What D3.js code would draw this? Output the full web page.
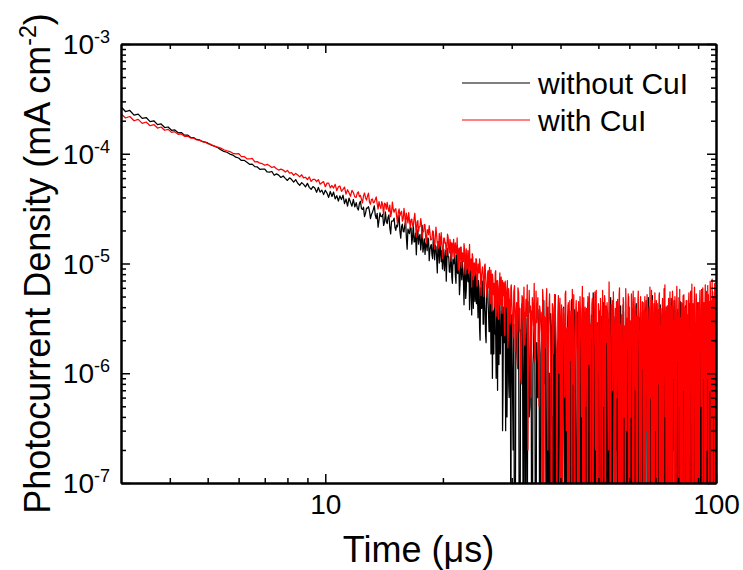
<!DOCTYPE html>
<html>
<head>
<meta charset="utf-8">
<title>Photocurrent decay</title>
<style>
  body { margin: 0; background: #fff; }
  svg { font-family: "Liberation Sans", Arial, sans-serif; }
  .axis .domain { stroke: #000; stroke-width: 2; }
  .axis .tick line { stroke: #000; stroke-width: 1.5; }
  .axis text { font-size: 28px; fill: #000; }
</style>
</head>
<body>
<div id="chart"></div>
<script src="https://d3js.org/d3.v7.min.js"></script>
<script>
// time grid of each recorded block (µs): start and step; blocks 3/4 and 5/6 interleave
const segStart = [3, 5, 12, 12.075, 30, 30.125];
const segStep = [0.08, 0.1, 0.15, 0.15, 0.25, 0.25];
const unit = 1e-6; // values below are in 1e-6 mA cm^-2

const withoutCuI = [
  [268, 242.5, 248, 224.8, 229.8, 209.8, 213.8, 196.3, 199.6, 184.2, 186.8, 173.3, 175.3,
   163.5, 165, 155.1, 156.1, 147.8, 148, 141.3, 140.4, 135.1, 133.8, 129.4, 127.6],
  [125.5, 120.2, 117.2, 114.0, 109.0, 105.0, 103.2, 99.3, 97.2, 93.1,
   91.5, 86.9, 87.1, 83.8, 80.1, 80.5, 76.3, 75.8, 72.2, 72.4,
   72.5, 68.2, 67.9, 68.9, 63.7, 65.6, 63.9, 60.8, 62.7, 59.7,
   57.1, 60.3, 58.2, 55.2, 58.1, 53.8, 51.6, 54.6, 52.6, 49.9,
   53.7, 49.4, 47.3, 50.2, 48.7, 44.6, 49.3, 44.7, 46.6, 42.4,
   46.5, 43.8, 40.0, 45.3, 40.8, 44.8, 38.8, 41.5, 37.1, 41.3,
   38.2, 41.9, 35.1, 38.7, 33.3, 39.5, 36.1, 33.3, 38.4, 32.8],
  [35.8, 30.7, 36.9, 31.1, 26.7, 31.9, 32.9, 25.6, 29.2, 33.5,
   25.6, 21.4, 28.9, 26.7, 22.2, 29.5, 23.1, 27.7, 18.6, 24.3,
   25.9, 20.0, 21.6, 27.5, 17.0, 22.8, 19.4, 24.1, 13.5, 19.5,
   21.5, 15.0, 22.9, 15.9, 12.0, 20.2, 17.5, 13.3, 22.2, 14.1,
   12.1, 15.8, 17.1, 10.6, 14.4, 12.0, 17.3, 10.8, 14.2, 8.2,
   13.9, 15.5, 10.4, 8.9, 13.5, 10.6, 6.9, 13.7, 11.5, 8.3,
   13.7, 6.6, 9.9, 12.0, 6.6, 8.4, 13.3, 5.2, 10.2, 7.1,
   8.9, 4.2, 10.6, 5.7, 11.5, 6.8, 3.8, 8.8, 3.4, 7.5,
   7.9, 4.5, 5.2, 7.9, 3.2, 5.9, 2.0, 6.1, 4.8, 2.8,
   6.7, 3.6, 1.9, 5.7, 4.4, 2.4, 6.5, 1.5, 4.5, 3.2,
   1.5, 5.3, 2.2, 4.5, 0.7, 3.6, 4.7, 1.5, 2.2, 5.3,
   0.7, 3.4, 4.1, 0.3, 2.7, 1.2, 4.4, 0.6, 3.2, -0.2],
  [32.1, 35.2, 31.7, 32.6, 28.6, 32.0, 30.0, 27.9, 31.1, 27.6,
   28.6, 24.8, 26.9, 28.0, 23.7, 24.3, 26.3, 21.2, 24.3, 24.5,
   21.4, 22.4, 24.6, 19.6, 21.6, 19.7, 22.4, 17.4, 20.6, 18.7,
   21.1, 17.3, 15.7, 18.9, 17.9, 15.0, 18.4, 15.8, 12.7, 16.8,
   15.1, 13.1, 16.7, 13.3, 14.9, 11.1, 13.6, 14.7, 11.3, 15.1,
   10.1, 12.8, 13.2, 10.9, 8.6, 13.2, 10.7, 11.6, 8.4, 10.5,
   7.5, 11.0, 10.2, 7.8, 12.0, 8.1, 8.9, 6.5, 10.0, 10.5,
   6.9, 8.4, 4.8, 8.6, 6.9, 8.9, 5.1, 7.4, 7.7, 3.9,
   6.4, 8.3, 4.3, 5.0, 7.0, 2.6, 5.9, 3.9, 6.9, 2.8,
   4.5, 2.2, 5.7, 6.8, 3.4, 2.4, 4.5, 5.7, 0.9, 3.7,
   5.2, 2.3, 0.9, 5.5, 3.6, 1.2, 4.1, 2.6, 5.5, 0.3,
   4.0, 1.9, 2.8, 4.5, 0.4, 3.4, 0.8, 4.7, 1.5, 3.0],
  [3.4, 0.2, -1.3, 2.9, 1.5, 4.1, -0.6, 2.2, 0.8, 3.6, -1.9, 1.7, 4.5, 0.4, 2.6, -0.9, 1.2, 3.3, -2.1, 1.9,
   0.6, 3.8, -1.4, 2.0, 0.1, 4.6, 1.3, -0.8, 2.7, -2.3, 1.0, 3.5, 0.3, -1.1, 2.4, 5.2, -0.5, 1.6, 0.0, 3.1,
   -1.7, 2.3, 0.9, 4.0, -0.3, 1.4, -2.6, 3.2, 0.5, 2.1, -1.0, 4.7, 1.1, -0.4, 2.8, 0.2, -1.9, 3.6, 1.5, -0.7,
   2.5, 0.0, 3.9, -1.5, 1.8, 0.6, -2.2, 2.9, 4.3, -0.2, 1.3, -1.2, 3.4, 0.7, 5.4, -0.9, 1.9, 0.3, -2.8, 2.6,
   1.0, 3.7, -0.6, 2.2, -1.8, 0.4, 4.4, 1.6, -1.0, 2.8, 0.1, -2.4, 3.1, 1.2, -0.3, 4.9, 0.8, -1.5, 2.0, 3.3,
   -0.7, 1.5, 3.8, 0.2, -2.0, 2.4, 1.1, -0.4, 4.1, 0.6, -1.6, 2.7, 3.5, -0.9, 1.3, 0.0, -2.5, 3.0, 1.7, 5.0,
   -1.2, 0.9, 2.6, -0.2, 3.9, 1.4, -2.1, 0.5, 2.2, -0.8, 4.3, 1.8, -1.4, 0.3, 3.2, -0.5, 2.0, -2.7, 1.1, 3.6,
   0.4, -1.3, 2.9, 1.0, -0.6, 4.6, 0.7, -2.3, 1.9, 3.3, -0.1, 1.5, -1.8, 2.5, 0.2, 5.1, -0.9, 1.2, 3.0, -1.5,
   2.1, 0.6, -2.0, 3.7, 1.3, -0.4, 2.8, 0.0, 4.2, -1.1, 1.6, -2.6, 2.4, 0.9, 3.5, -0.7, 1.0, -1.6, 4.0, 0.3,
   -0.8, 2.7, 1.4, -1.9, 3.1, 0.5, -0.3, 4.8, 1.1, -2.2, 2.0, 0.2, 3.6, -1.2, 1.7, -0.5, 2.9, 0.8, -2.4, 3.8,
   1.2, -0.9, 2.3, 0.4, 4.5, -1.7, 1.8, 0.0, -2.1, 3.3, 1.0, 2.6, -0.6, 0.7, 4.1, -1.3, 1.5, 3.0, -0.2, -2.8,
   2.2, 0.8, 3.9, -1.0, 1.4, -0.3, 5.3, 0.6, -1.8, 2.5, 1.1, -0.7, 3.4, 0.1, -2.3, 2.8, 1.6, -0.5, 4.4, 0.9,
   -1.4, 2.0, 0.3, 3.6, -0.8, 1.7, -2.5, 2.9, 0.5, 4.7, -0.2, 1.2, -1.6, 3.2, 0.7, -0.9, 2.4, 5.6, -1.1, 1.5,
   0.2, 3.5, -1.9, 1.8, 0.6, 4.3, -0.4, 2.1, -2.2, 1.0, 3.8, 0.4, -1.3, 2.6, 5.0, -0.6, 1.4, 0.1, 3.3, -1.8,
   2.2],
  [0.9, 2.8, -0.7, 3.9, 1.1, -1.6, 2.5, 4.3, 0.0, 1.8, 3.2, -1.2, 2.1, 0.5, 3.7, -0.4, 1.6, 2.9, -1.5, 0.7,
   2.4, -0.8, 1.5, 3.6, -1.9, 0.8, 2.2, -0.1, 4.0, 1.0, -2.1, 2.6, 0.4, 3.3, -0.9, 1.7, -2.4, 2.0, 4.4, 0.2,
   1.3, -1.1, 3.0, 0.1, 2.4, -2.0, 1.6, 4.2, -0.6, 0.9, 2.7, -1.4, 0.3, 3.8, 1.0, -2.7, 2.2, 0.6, -0.8, 3.4,
   -0.2, 1.9, -1.8, 3.1, 0.7, 2.3, -2.4, 1.2, 4.5, -0.5, 0.4, 2.6, -1.3, 1.8, 0.0, 3.7, -2.0, 1.4, 2.9, -0.9,
   1.7, 0.2, -1.6, 3.3, 0.8, 2.0, -0.7, 4.8, -2.3, 1.1, 2.5, 0.3, -1.1, 3.6, 1.4, -0.4, 2.2, -2.6, 1.0, 3.0,
   0.5, -1.4, 2.7, 1.2, -0.3, 3.9, 0.9, -2.2, 1.6, 2.4, -0.8, 4.2, 0.1, 1.8, -1.7, 2.9, 0.6, -0.5, 3.5, 1.3,
   2.0, -1.9, 0.7, 3.4, -0.6, 1.5, 2.8, -2.4, 0.3, 4.0, 1.1, -0.9, 2.4, 0.0, -1.5, 3.2, 1.7, 0.4, -2.8, 2.6,
   -0.4, 2.1, 1.0, -1.7, 3.8, 0.5, 1.9, -0.8, 4.9, 0.8, -2.0, 2.3, 1.4, -1.0, 3.1, 0.2, -0.6, 2.7, 1.2, -2.2,
   3.5, 0.7, -1.2, 2.0, 1.3, -0.2, 4.4, -1.8, 0.9, 2.6, -0.7, 1.6, 3.9, -2.5, 0.4, 1.8, -0.3, 3.0, 0.6, -1.4,
   1.5, 4.1, -0.9, 0.8, 2.3, -2.1, 1.1, 3.4, 0.0, -1.5, 2.7, 0.5, 4.6, -0.6, 1.3, -2.6, 2.1, 0.9, 3.2, -0.2,
   0.6, 2.9, -1.8, 1.4, 3.6, -0.5, 0.2, 2.2, -2.3, 1.7, 4.0, 0.3, -1.0, 2.5, 0.8, -0.4, 3.3, 1.0, -1.9, 2.0,
   -0.6, 1.9, 4.3, 0.4, -1.4, 2.6, 1.2, -2.2, 3.1, 0.0, 1.6, -0.8, 4.7, 0.9, -1.7, 2.3, 0.5, 3.5, -0.3, 1.1,
   2.8, -1.0, 0.7, 3.9, -2.4, 1.5, 0.2, 2.4, -0.7, 4.2, 1.0, -1.5, 2.0, 0.6, -0.2, 3.7, 1.3, -2.0, 2.6, 0.4,
   -1.2, 3.0, 0.9, -0.4, 2.2, 4.5, -1.6, 1.4, 0.3, 2.8, -0.9, 1.7, 3.6, -2.2, 0.6, 2.0, -0.5, 4.1, 1.1, -1.3]
];

const withCuI = [
  [231.8, 211.8, 218.4, 199.7, 205.9, 189.3, 194.6, 180, 184.5, 171.5, 175.2, 163.7, 166.8,
   156.5, 159, 150.2, 151.7, 144.3, 145.1, 139, 138.7, 134, 133.1, 129.2, 127.9],
  [123.7, 121.5, 117.3, 115.1, 112.7, 108.7, 106.5, 104.7, 100.9, 99.7,
   100.5, 94.2, 94.2, 89.9, 89.6, 90.9, 84.4, 84.8, 82.0, 81.1,
   78.5, 80.1, 77.6, 74.9, 76.2, 73.1, 71.0, 72.5, 71.0, 68.1,
   70.5, 66.6, 67.4, 63.7, 66.2, 64.1, 61.5, 64.3, 60.3, 61.1,
   58.2, 61.5, 56.0, 58.5, 58.5, 55.6, 58.2, 52.8, 54.4, 55.7,
   50.1, 54.0, 54.0, 48.9, 51.4, 48.7, 52.7, 46.2, 49.9, 50.8,
   45.5, 47.3, 49.7, 42.9, 47.0, 44.1, 41.0, 46.4, 44.3, 40.5],
  [40.1, 45.0, 41.8, 35.6, 43.9, 37.8, 43.7, 34.7, 38.7, 36.1,
   40.5, 31.3, 33.5, 36.6, 27.9, 34.9, 36.0, 29.7, 26.7, 36.3,
   29.3, 31.6, 23.0, 31.4, 28.9, 24.3, 31.8, 21.5, 26.0, 29.1,
   21.3, 25.4, 21.9, 28.7, 17.4, 24.6, 21.5, 25.6, 17.1, 19.4,
   22.4, 15.2, 20.3, 22.1, 16.4, 16.8, 19.6, 13.5, 21.4, 15.3,
   13.8, 16.7, 19.1, 11.1, 17.0, 15.3, 11.9, 18.5, 13.5, 16.6,
   10.5, 14.9, 16.6, 11.5, 12.6, 17.1, 8.7, 13.8, 14.1, 9.1,
   12.2, 15.2, 8.0, 13.6, 9.5, 8.1, 14.9, 9.5, 6.1, 11.4,
   10.0, 7.8, 11.1, 6.2, 9.9, 8.2, 10.0, 5.1, 8.7, 7.9,
   5.8, 9.9, 6.3, 4.9, 8.6, 7.2, 5.3, 8.7, 3.7, 7.2,
   6.6, 4.0, 8.6, 5.0, 7.0, 3.1, 6.3, 4.2, 7.5, 3.5,
   5.1, 6.7, 2.2, 5.8, 4.0, 7.0, 2.2, 4.8, 2.8, 6.0],
  [43.8, 40.7, 38.5, 41.3, 39.8, 41.3, 36.2, 38.3, 35.7, 38.2,
   35.2, 36.6, 31.7, 34.0, 35.4, 31.2, 31.8, 34.1, 29.2, 31.2,
   31.1, 27.0, 29.2, 27.2, 29.9, 25.5, 27.4, 28.8, 23.4, 24.6,
   25.1, 22.1, 25.8, 22.4, 24.0, 19.6, 21.7, 22.9, 19.5, 22.7,
   16.9, 20.3, 18.3, 19.3, 16.5, 19.8, 15.3, 17.5, 18.1, 15.8,
   18.8, 14.7, 15.8, 13.0, 17.0, 15.5, 13.8, 17.4, 12.5, 15.0,
   15.5, 11.4, 13.8, 15.4, 12.3, 11.2, 13.8, 9.5, 14.1, 12.5,
   10.4, 13.2, 10.7, 8.9, 13.1, 10.5, 8.7, 11.0, 12.3, 7.1,
   10.1, 8.5, 10.8, 6.5, 8.9, 11.0, 6.8, 7.9, 9.3, 5.0,
   9.6, 7.5, 5.4, 8.1, 6.0, 9.2, 4.3, 7.1, 8.0, 5.2,
   5.8, 8.3, 3.3, 7.0, 6.1, 3.8, 8.2, 4.5, 3.8, 7.0,
   5.6, 2.7, 6.9, 4.1, 5.5, 1.7, 5.9, 4.5, 2.9, 6.4],
  [4.6, 2.1, 6.3, 3.5, 1.2, 5.4, 3.9, 0.8, 4.8, 6.1, 2.6, 3.3, 0.2, 5.7, 4.1, 1.9, 3.8, 6.6, 1.4, 2.9,
   4.9, 0.5, 3.6, 2.2, 5.8, -0.7, 3.1, 4.4, 1.1, 2.7, 5.3, 0.9, -1.2, 3.9, 2.4, 4.7, 1.6, 0.3, 5.1, 2.8,
   -0.4, 4.2, 1.7, 3.4, 0.6, 5.6, 2.3, -1.5, 3.0, 4.6, 1.3, -0.2, 2.9, 5.2, 0.7, 3.7, 1.8, -0.9, 4.5, 2.0,
   3.3, 0.4, 6.2, 1.5, -1.1, 4.0, 2.6, 0.9, 5.0, 1.2, 3.6, -0.6, 2.1, 4.8, 0.1, 3.2, 5.5, 1.0, -1.8, 2.7,
   4.3, 1.6, -0.3, 3.8, 2.2, 5.7, 0.5, 2.9, -1.0, 4.1, 1.9, 3.5, 0.2, 6.8, 1.4, -0.8, 3.0, 4.6, 1.1, 2.5,
   -1.4, 3.9, 2.0, 0.6, 4.7, 1.3, 5.2, -0.5, 2.8, 3.4, 0.8, -1.7, 4.4, 2.3, 1.0, 5.9, 0.3, 3.1, 1.7, -0.2,
   4.0, 2.6, 0.4, 5.3, 1.8, -1.2, 3.6, 2.1, 4.9, 0.7, -0.6, 3.3, 1.5, 5.6, 2.4, -1.9, 3.8, 1.2, 0.1, 4.5,
   2.2, -0.9, 3.7, 5.0, 1.4, 0.3, 4.2, 2.8, -1.3, 3.1, 1.9, 6.1, 0.6, 2.5, -0.4, 4.6, 1.1, 3.4, 0.0, 5.4,
   1.6, 3.0, -1.6, 4.3, 2.0, 0.8, 5.1, -0.3, 2.7, 3.9, 1.3, -1.1, 4.8, 2.2, 0.5, 3.5, 6.4, 1.0, -0.7, 2.9,
   4.1, 0.2, 3.2, 1.7, -1.4, 5.5, 2.4, 0.9, 3.8, -0.5, 4.7, 1.4, 2.6, 0.0, 5.0, 3.3, -1.0, 1.8, 4.4, 2.1,
   -0.8, 3.6, 1.2, 5.8, 2.9, 0.4, -1.9, 4.2, 2.0, 3.4, 0.7, 5.2, 1.5, -0.2, 3.9, 2.5, 0.1, 4.6, 1.9, -1.3,
   3.1, 5.4, 0.6, 2.3, 4.0, -0.6, 1.8, 6.5, 2.7, 0.3, 3.5, -1.5, 4.9, 1.6, 2.9, 0.8, 5.3, -0.1, 3.7, 2.0,
   1.1, 4.4, -1.0, 3.0, 5.7, 2.2, 0.5, 4.1, 1.3, -0.7, 6.0, 2.8, 0.9, 3.6, -1.8, 4.7, 2.4, 1.0, 5.5, 0.2,
   3.3, 6.3, 1.7, -0.4, 4.5, 2.6, 0.7, 5.9, 1.9, -1.2, 3.8, 7.2, 2.1, 0.4, 4.8, 1.5, -0.9, 6.6, 2.9, 0.6,
   3.4],
  [3.1, 5.5, 1.6, 4.4, 6.0, 2.4, 0.9, 5.1, 3.0, 1.8, 4.7, 6.4, 2.0, 3.6, 0.6, 4.9, 2.7, 1.3, 5.6, 3.9,
   1.2, 4.1, 2.9, -0.5, 4.6, 3.3, 1.7, 5.9, 0.2, 3.8, 2.2, -0.9, 4.3, 1.5, 5.2, 2.6, -0.3, 3.5, 1.0, 4.8,
   2.7, -1.2, 3.9, 1.4, 5.3, 0.3, 2.6, 4.4, -0.6, 1.9, 3.7, 5.8, 0.8, -1.4, 2.4, 4.6, 1.2, 3.1, -0.1, 5.0,
   1.8, 3.5, -0.8, 4.9, 2.3, 0.5, 3.9, -1.6, 2.0, 5.4, 1.1, 2.8, 4.2, -0.4, 1.6, 3.3, 0.2, 5.7, 2.5, -1.0,
   3.7, 0.9, 4.8, 2.1, -1.3, 3.2, 1.4, 5.1, -0.2, 2.6, 4.4, 0.6, 1.9, 3.0, -1.7, 4.2, 2.3, 0.7, 5.5, 1.6,
   2.4, -0.6, 4.5, 1.2, 3.6, 0.0, 6.0, 2.2, -1.1, 3.4, 1.7, 4.9, 0.4, 2.7, -0.9, 4.1, 1.5, 3.2, 5.3, 0.8,
   -0.8, 3.0, 1.3, 4.3, 2.0, 5.6, -1.5, 2.6, 0.9, 3.9, 1.4, -0.3, 4.6, 2.2, 0.5, 3.4, 5.0, -1.0, 2.8, 1.1,
   4.4, 0.6, 2.9, -1.2, 3.6, 1.8, 5.2, 0.1, 2.4, 4.0, -0.7, 1.5, 3.3, 5.7, 0.9, -1.6, 2.7, 4.3, 1.2, 3.0,
   0.3, 4.6, 2.1, -0.5, 3.8, 1.6, 5.4, 2.5, -1.3, 3.1, 0.8, 4.2, 1.9, -0.1, 5.9, 2.3, 0.4, 3.6, -1.9, 4.0,
   2.6, -0.4, 4.8, 1.1, 3.3, 0.6, -1.5, 4.1, 2.2, 5.6, 0.9, 3.0, -0.8, 1.7, 4.5, 2.0, 0.2, 6.2, 1.3, 3.5,
   2.1, 4.9, 0.5, -1.1, 3.2, 1.6, 4.4, 2.7, -0.6, 5.1, 1.0, 3.6, -1.7, 2.3, 0.8, 4.6, 2.9, -0.2, 3.4, 1.4,
   4.7, -0.9, 2.5, 1.2, 5.6, 0.3, 3.4, 1.9, -1.2, 4.3, 2.1, 0.7, 6.1, 1.5, -0.4, 3.1, 4.4, 0.9, 2.6, -1.6,
   3.8, 2.0, -0.3, 4.9, 1.6, 3.3, 0.6, 5.8, 2.4, -1.3, 3.7, 1.1, 4.4, 0.2, 2.8, 6.4, -0.8, 3.2, 1.7, 4.1,
   0.9, 2.6, 5.2, -0.6, 3.9, 1.4, 6.9, 2.2, 0.0, 4.6, 1.8, -1.1, 5.5, 3.0, 0.8, 4.2, 2.5, -0.5, 5.0, 1.9]
];

const seriesNames = ["without CuI", "with CuI"];
const seriesColors = ["#000000", "#ff0000"];
const xMajor = [10, 100];
const yMajor = [1e-7, 1e-6, 1e-5, 1e-4, 1e-3];

const W = 743, H = 570;
const margin = { top: 44, right: 27, bottom: 87, left: 121 };

const svg = d3.select("#chart").append("svg")
  .attr("width", W).attr("height", H);

const x = d3.scaleLog().domain([3, 100]).range([margin.left, W - margin.right]);
const y = d3.scaleLog().domain([1e-7, 1e-3]).range([H - margin.bottom, margin.top]);

function toPoints(segs) {
  const pts = [];
  segs.forEach((vals, s) => {
    vals.forEach((v, i) => {
      pts.push({ t: +(segStart[s] + i * segStep[s]).toFixed(3), v: v * unit });
    });
  });
  return pts.sort((a, b) => a.t - b.t);
}
const series = [withoutCuI, withCuI].map(toPoints);

svg.append("clipPath").attr("id", "plot-clip")
  .append("rect")
  .attr("x", margin.left).attr("y", margin.top)
  .attr("width", W - margin.left - margin.right)
  .attr("height", H - margin.top - margin.bottom);

const line = d3.line()
  .x(d => x(d.t))
  .y(d => y(Math.max(d.v, 1e-8)));

svg.append("g").attr("clip-path", "url(#plot-clip)")
  .selectAll("path")
  .data(series)
  .join("path")
  .attr("d", line)
  .attr("fill", "none")
  .attr("stroke", (d, i) => seriesColors[i])
  .attr("stroke-width", 1.25)
  .attr("stroke-linejoin", "round");

// ticks: minor inside 5px, major inside 9px, on all four sides
const xMinor = x.ticks().filter(t => t > 3 && t < 100 && !xMajor.includes(t));
const yMinor = y.ticks().filter(v => !yMajor.some(m => Math.abs(m - v) / m < 1e-6));

function addAxis(axisFn, scale, minor, major, transform, withLabels) {
  svg.append("g").attr("class", "axis").attr("transform", transform)
    .call(axisFn(scale).tickValues(minor).tickSize(-5).tickSizeOuter(0).tickFormat(""));
  svg.append("g").attr("class", "axis").attr("transform", transform)
    .call(axisFn(scale).tickValues(major).tickSize(-9).tickSizeOuter(0)
      .tickPadding(11)
      .tickFormat(withLabels ? d3.format("d") : ""));
}

addAxis(d3.axisBottom, x, xMinor, xMajor, `translate(0,${H - margin.bottom})`, true);
addAxis(d3.axisTop, x, xMinor, xMajor, `translate(0,${margin.top})`, false);
addAxis(d3.axisLeft, y, yMinor, yMajor, `translate(${margin.left},0)`, false);
addAxis(d3.axisRight, y, yMinor, yMajor, `translate(${W - margin.right},0)`, false);

// y tick labels as 10 with superscript exponent
const yLab = svg.append("g")
  .selectAll("text")
  .data(yMajor)
  .join("text")
  .attr("x", margin.left - 11)
  .attr("y", d => y(d))
  .attr("dy", "0.36em")
  .attr("text-anchor", "end")
  .style("font-size", "28px");
yLab.append("tspan").text("10");
yLab.append("tspan")
  .attr("dy", "-0.62em")
  .style("font-size", "18px")
  .text(d => Math.round(Math.log10(d)));

// axis titles
svg.append("text")
  .attr("x", (margin.left + W - margin.right) / 2)
  .attr("y", 562)
  .attr("text-anchor", "middle")
  .style("font-size", "36px")
  .text("Time (\u03bcs)");

const yt = svg.append("text")
  .attr("transform", `translate(50,${(margin.top + H - margin.bottom) / 2}) rotate(-90)`)
  .attr("text-anchor", "middle")
  .style("font-size", "36px");
yt.append("tspan").text("Photocurrent Density (mA cm");
yt.append("tspan").attr("dy", "-0.62em").style("font-size", "23px").text("-2");
yt.append("tspan").attr("dy", "0.4em").text(")");

// legend
const legend = svg.append("g")
  .selectAll("g")
  .data(seriesNames)
  .join("g")
  .attr("transform", (d, i) => `translate(462,${83 + i * 37})`);
legend.append("line")
  .attr("x1", 0).attr("x2", 68)
  .attr("stroke", (d, i) => seriesColors[i])
  .attr("stroke-width", 1);
legend.append("text")
  .attr("x", 76)
  .attr("dy", "0.35em")
  .style("font-size", "30px")
  .text(d => d);
</script>
</body>
</html>
